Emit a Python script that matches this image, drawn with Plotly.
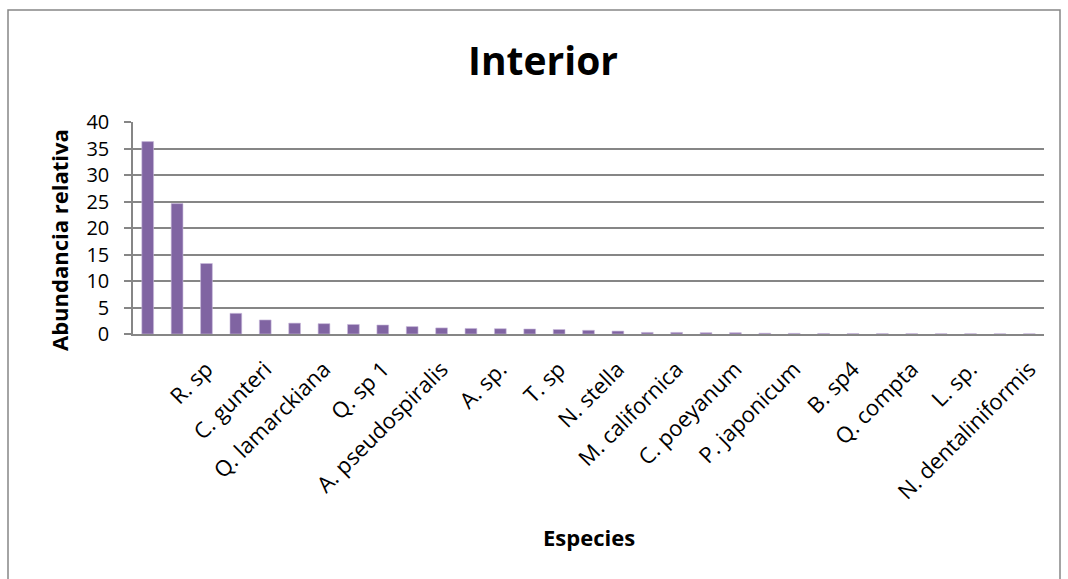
import plotly.graph_objects as go

# Relative abundance per species, ordered from most to least abundant
abundance = [36.3, 24.6, 13.3, 3.9, 2.65, 2.05, 1.95, 1.8, 1.7, 1.4,
             1.15, 1.05, 1.0, 0.95, 0.85, 0.7, 0.55, 0.3, 0.3, 0.25,
             0.25, 0.15, 0.12, 0.1, 0.08, 0.07, 0.06, 0.05, 0.05, 0.04,
             0.04]
positions = list(range(1, len(abundance) + 1))

# Species names shown on the axis (every second species, starting with the 3rd)
label_positions = [3, 5, 7, 9, 11, 13, 15, 17, 19, 21, 23, 25, 27, 29, 31]
species_labels = ["R. sp", "C. gunteri", "Q. lamarckiana", "Q. sp 1",
                  "A. pseudospiralis", "A. sp.", "T. sp", "N. stella",
                  "M. californica", "C. poeyanum", "P. japonicum", "B. sp4",
                  "Q. compta", "L. sp.", "N. dentaliniformis"]

y_ticks = [0, 5, 10, 15, 20, 25, 30, 35, 40]

FONT = "Open Sans, Noto Sans, sans-serif"
GRAY = "#868686"
PURPLE = "#8064A2"

n = len(abundance)
xrange_ = [0.5, n + 0.5]

fig = go.Figure()
fig.add_trace(go.Bar(
    x=positions, y=abundance,
    marker=dict(color=PURPLE, line=dict(color="#C9BBDB", width=0.6)),
    width=0.4,
    hoverinfo="x+y",
))

# Plot-area geometry in pixels
L, R, T, B = 133, 1044, 122, 334
W, H = 1068, 579
pw, ph = R - L, B - T

def px_x(px):
    return (px - L) / pw

def px_y(py):
    return (B - py) / ph

fig.update_layout(
    width=W, height=H,
    margin=dict(l=L, r=W - R, t=T, b=H - B, pad=0),
    paper_bgcolor="white", plot_bgcolor="white",
    showlegend=False,
    bargap=0.6,
    font=dict(family=FONT, color="black", size=22),
    xaxis=dict(
        range=xrange_,
        tickmode="array", tickvals=label_positions, ticktext=species_labels,
        tickangle=-45, ticks="outside", ticklen=12,
        tickcolor="rgba(0,0,0,0)", showgrid=False, zeroline=False,
        showline=True, linecolor=GRAY, linewidth=1.5,
        tickfont=dict(family=FONT, size=22, color="black"),
        title=None, fixedrange=True,
    ),
    xaxis2=dict(
        overlaying="x", anchor="y", side="bottom",
        range=xrange_,
        tickmode="array", tickvals=[p + 0.5 for p in [0] + positions],
        ticks="outside", ticklen=7, tickwidth=1.5, tickcolor=GRAY,
        showticklabels=False, showgrid=False, zeroline=False,
        showline=False, fixedrange=True,
    ),
    yaxis=dict(
        range=[0, 40], tickmode="array", tickvals=y_ticks,
        ticks="outside", ticklen=7, tickwidth=1.5, tickcolor=GRAY,
        ticklabelstandoff=11,
        showgrid=True, gridcolor=GRAY, gridwidth=1.5,
        zeroline=False, showline=True, linecolor=GRAY, linewidth=1.5,
        tickfont=dict(family=FONT, size=20, color="black"),
        fixedrange=True,
    ),
    shapes=[dict(
        type="rect", xref="paper", yref="paper",
        x0=px_x(8), x1=px_x(1060), y0=px_y(600), y1=px_y(10),
        line=dict(color=GRAY, width=1.5), fillcolor="rgba(0,0,0,0)",
        layer="below",
    )],
    annotations=[
        dict(text="<b>Interior</b>", xref="paper", yref="paper",
             x=px_x(543), y=px_y(60), showarrow=False,
             xanchor="center", yanchor="middle",
             font=dict(family=FONT, size=39, color="black")),
        dict(text="<b>Abundancia relativa</b>", xref="paper", yref="paper",
             x=px_x(59), y=px_y(240), showarrow=False, textangle=-90,
             xanchor="center", yanchor="middle",
             font=dict(family=FONT, size=22, color="black")),
        dict(text="<b>Especies</b>", xref="paper", yref="paper",
             x=px_x(589), y=px_y(537), showarrow=False,
             xanchor="center", yanchor="middle",
             font=dict(family=FONT, size=22, color="black")),
    ],
)

fig.write_html("out.html", config={"displayModeBar": False})
